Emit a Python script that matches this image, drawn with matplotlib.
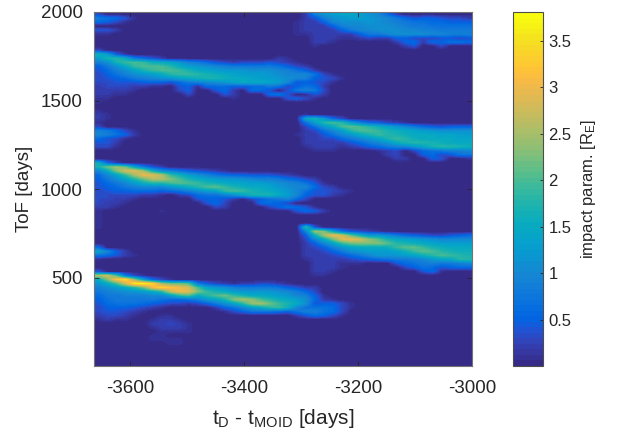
import numpy as np
import matplotlib
matplotlib.use("Agg")
import matplotlib.pyplot as plt
from matplotlib.colors import LinearSegmentedColormap

plt.rcParams['font.family'] = ['Liberation Sans', 'DejaVu Sans']
plt.rcParams['mathtext.fontset'] = 'custom'
plt.rcParams['mathtext.rm'] = 'Liberation Sans'
plt.rcParams['mathtext.default'] = 'regular'

x_limits = [-3663, -3000]
y_limits = [3, 2000]
c_limits = [0.0, 3.81]
x_ticks = [-3600, -3400, -3200, -3000]
y_ticks = [500, 1000, 1500, 2000]
c_ticks = [0.5, 1, 1.5, 2, 2.5, 3, 3.5]
c_tick_labels = ['0.5', '1', '1.5', '2', '2.5', '3', '3.5']
x_title = r'$t_D$ - $t_{MOID}$ [days]'
y_title = 'ToF [days]'
c_title = r'impact param. [$R_E$]'

# each character is one grid cell of impact parameter, in steps of 0.1 R_E
levels = ".123456789abcdefghijklmnopqrstuvwxyz+*#"
impact_rows = """
3..... ...... ...... .....2 9cdeed ba62.. ......
87641. ...... ...... .....2 49bcdd cba864 554332
6531.. ...... ...... ....12 25abbb cba987 766555
...... ...... ...... ....12 2259aa bbba98 877777
442... ...... ...... ....12 22258a abbbaa 998888
11.... ...... ...... ....11 222225 88abbb baa999
...... ...... ...... ...... 222112 322553 334434
...... ...... ...... ...... 221... ...256 265776
...... ...... ...... ...... 1..... ....24 ..3...
3..... ...... ...... ...... ...... ...... ......
gd51.. ...... ...... ...... ...... ...... ......
dhif86 42.... ...... ..21.. ...... ...... ......
9bhjkj gfec98 643233 34321. ...... ...... ......
58bfjk kkifdc ba9888 887532 ...... ...... ......
469beh jkkjhf edcccb bba975 2..... ...... ......
3579bc dfijji hgfedd dcbaaa 731... ...... ......
345689 abcefg hhgffe ddcba9 5431.. ...... ......
334445 554689 abceff feda45 431... ...... ......
233322 11.451 666556 687357 62.... ...... ......
22221. ...35. .462.6 64.489 83.... ...... ......
2211.. ....3. ..42.. .674.1 42.... ...... ......
11.... ...... ...1.. ...453 1..... ...... ......
1..... ...... ...... ...... ...... ...... ......
...... ...... ...... ...... ...... ...... ......
1..... ...... ...... ...... ...... ...... ......
21.... ...... ...... .....1 ...... ...... ......
21.... ...... ...... .....f hc63.. ...... ......
1..... ...... ...... .....7 dikid9 65321. ......
3..... ...... ...... .....3 7cfklk igeca8 654555
98631. ...... ...... .....2 37adik kjhgfe dcbbbb
a9752. ...... ...... ....12 247acf hjihgf ffeedd
6431.. ...... ...... .....2 23368a cehjig ffffee
442... ...... ...... .....2 222246 8acfhi ihgfff
331... ...... ...... .....1 222123 5689ac ehiihg
...... ...... ...... ...... 111... .123.3 67899a
...... ...... ...... ...... ...... ..23.. 563477
...... ...... ...... ...... ...... ...22. .54..1
g62... ...... ...... ...... ...... ...... ......
hmpme8 42.... ...... ...... ...... ...... ......
afnstp gb9754 321... ...... ...... ...... ......
6aejpu tqjgdb 976554 44321. ...... ...... ......
58beim qqnkhf edccba 998653 2..... ...... ......
468adg iiklkj hgfeed dcba97 41.... ...... ......
45689a aacegi kljhgf fecbaa 632... ...... ......
345566 65679b dejkjh gfeca7 44321. ...... ......
333332 21.236 779beh hhfda5 4421.. ...... ......
33221. .....4 5542.3 578a63 ...... ...... ......
3221.. ...... 463... 6653.. ...... ...... ......
221... ...... .32... .35764 1..... ...... ......
1..... .1.... ...... ....46 52.... ...... ......
1..... ...... ...... ...... ...... ...... ......
1..... ...... ...... ...... ...... ...... ......
1..... ...... ...... ...... ...... ...... ......
1..... ...... ...... .....j 4..... ...... ......
...... ...... ...... .....a pne743 21.... ......
...... ...... ...... .....5 gpuslg cca865 433456
...... ...... ...... .....3 afmtus olhfed cbaaaa
...... ...... ...... .....2 5aejmn nnlihg fedddd
6..... ...... ...... .....2 359cef ffgjll jhgfff
ea52.. ...... ...... .....2 2358bc dddegj lkihgg
76421. ...... ...... .....2 223468 acccde gikjih
1..... ...... ...... .....1 222234 567889 acefii
...... ...... ...... ...... 222111 ...467 89889a
...... ...... ...... ...... 2221.. ....35 764566
4..... ...... ...... ...... 221... ...... 461...
qsk831 ...... ...... ...... 11.... ...... ......
fnwzod 631... ...... ...... ...... ...... ......
cfks+* ypmmk8 532122 3321.. ...... ...... ......
9bdfim uywusk ecb988 887542 2..... ...... ......
89abcd firutn jhfdcc ccba86 3..... ...... ......
688999 aadikf ikmjhf fedca9 51.... ...... ......
578888 876679 cehnpo kigfdb 621... ...... ......
467776 543323 58beio pmjhfb 45531. ...... ......
355543 21.... .257ad fijga7 77631. ...... ......
344321 ...... ..1357 776579 9763.. ...... ......
23321. .11... ...... ....24 6531.. ...... ......
1211.. 1221.. ...... ...... ...... ...... ......
...... 22321. ...... ...... ...... ...... ......
...... 12221. ...... ...... ...... ...... ......
...... .1111. ...... ...... ...... ...... ......
...... 11.... ...... ...... ...... ...... ......
...... 1111.. ...... ...... ...... ...... ......
...... ..11.. ...... ...... ...... ...... ......
...... ...... ...... ...... ...... ...... ......
...... ...... ...... ...... ...... ...... ......
...... ...... ...... ...... ...... ...... ......
...... ...... ...... ...... ...... ...... ......
...... ...... ...... ...... ...... ...... ......
""".strip().splitlines()

parula_anchors = [
    (0.2081, 0.1663, 0.5292), (0.2123, 0.2138, 0.6270), (0.1959, 0.2645, 0.7279),
    (0.1253, 0.3242, 0.8303), (0.0117, 0.3875, 0.8820), (0.0165, 0.4266, 0.8786),
    (0.0498, 0.4586, 0.8641), (0.0723, 0.4887, 0.8467), (0.0793, 0.5200, 0.8312),
    (0.0641, 0.5570, 0.8240), (0.0343, 0.5966, 0.8199), (0.0239, 0.6287, 0.8038),
    (0.0228, 0.6535, 0.7768), (0.0384, 0.6743, 0.7436), (0.0843, 0.6928, 0.7062),
    (0.1453, 0.7098, 0.6646), (0.2178, 0.7250, 0.6193), (0.3022, 0.7376, 0.5712),
    (0.3953, 0.7459, 0.5244), (0.4871, 0.7491, 0.4840), (0.5709, 0.7485, 0.4494),
    (0.6473, 0.7456, 0.4188), (0.7184, 0.7411, 0.3905), (0.7858, 0.7356, 0.3633),
    (0.8507, 0.7299, 0.3360), (0.9139, 0.7258, 0.3063), (0.9739, 0.7314, 0.2666),
    (0.9990, 0.7653, 0.2164), (0.9880, 0.8066, 0.1794), (0.9697, 0.8481, 0.1475),
    (0.9589, 0.8949, 0.1132), (0.9661, 0.9514, 0.0755), (0.9763, 0.9831, 0.0538),
]
parula = LinearSegmentedColormap.from_list('parula', parula_anchors, N=64)

grid = np.array([[levels.index(ch) * 0.1 for ch in row.replace(' ', '')]
                 for row in impact_rows])

W, H = 617, 438
ink = (0.15, 0.15, 0.15)
fig = plt.figure(figsize=(W / 100, H / 100), dpi=100)
ax = fig.add_axes([94 / W, 1 - 366 / H, (472.5 - 94) / W, (366 - 12) / H])
im = ax.imshow(grid, cmap=parula, vmin=c_limits[0], vmax=c_limits[1], aspect='auto',
               interpolation='bilinear',
               extent=[x_limits[0], x_limits[1], y_limits[0], y_limits[1]], origin='upper')
ax.set_xlim(x_limits)
ax.set_ylim(y_limits)
ax.set_xticks(x_ticks)
ax.set_xticklabels([str(v) for v in x_ticks])
ax.set_yticks(y_ticks)
ax.tick_params(direction='in', length=3.5, width=0.6, color=ink, labelcolor=ink,
               labelsize=13.5, top=True, right=True)
ax.tick_params(axis='x', pad=10)
ax.tick_params(axis='y', pad=8)
for s in ax.spines.values():
    s.set_linewidth(0.8)
    s.set_color((0.45, 0.45, 0.45))
ax.set_xlabel(x_title, fontsize=15, color=ink, labelpad=7)
ax.set_ylabel(y_title, fontsize=13.5, color=ink, labelpad=6)

cax = fig.add_axes([513 / W, 1 - 366 / H, 30 / W, (366 - 12) / H])
cb = fig.colorbar(im, cax=cax)
cb.set_ticks(c_ticks)
cb.set_ticklabels(c_tick_labels)
cb.ax.tick_params(direction='in', length=2.5, width=0.6, color=ink, labelcolor=ink,
                  labelsize=12, pad=4)
cb.outline.set_linewidth(0.8)
cb.outline.set_edgecolor((0.3, 0.3, 0.3))
cb.set_label(c_title, fontsize=12, color=ink, labelpad=5)

fig.savefig('out.png', dpi=100)
